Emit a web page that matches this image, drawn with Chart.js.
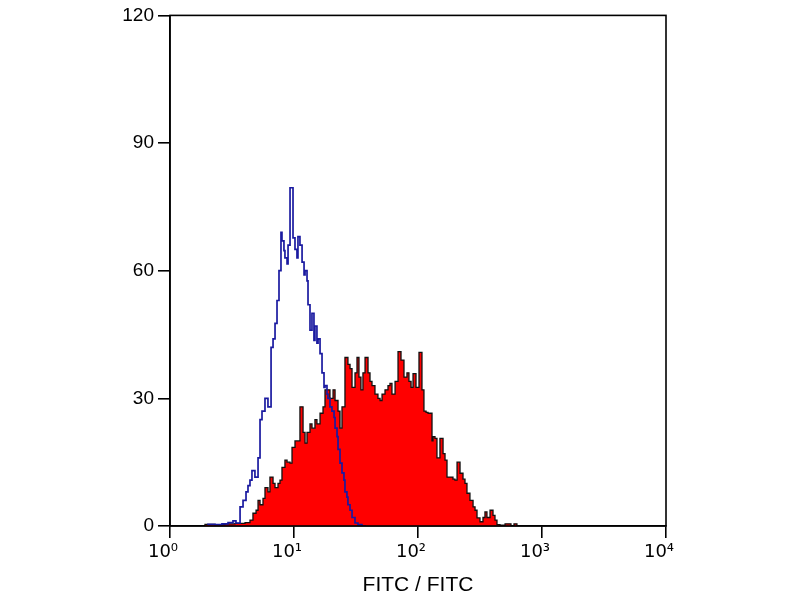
<!DOCTYPE html>
<html>
<head>
<meta charset="utf-8">
<title>FITC histogram</title>
<script src="https://cdn.jsdelivr.net/npm/chart.js@4"></script>
<style>
    html, body { margin: 0; padding: 0; background: #fff; }
    #wrap { width: 800px; height: 600px; position: relative; }
</style>
</head>
<body>
<div id="wrap"><canvas id="histo"></canvas></div>
<script>
// x values are fluorescence intensity in decades (log10), counts on y
const isotypeX = [0.306, 0.363, 0.419, 0.468, 0.508, 0.532, 0.565, 0.589, 0.613, 0.629,
    0.645, 0.661, 0.685, 0.710, 0.726, 0.742, 0.766, 0.790, 0.815, 0.831,
    0.847, 0.863, 0.879, 0.895, 0.903, 0.919, 0.927, 0.944, 0.952, 0.968,
    0.992, 1.008, 1.024, 1.032, 1.048, 1.065, 1.081, 1.089, 1.105, 1.113,
    1.129, 1.145, 1.161, 1.169, 1.185, 1.194, 1.210, 1.226, 1.242, 1.250,
    1.266, 1.274, 1.290, 1.306, 1.323, 1.331, 1.347, 1.355, 1.371, 1.387,
    1.403, 1.411, 1.427, 1.435, 1.452, 1.468, 1.492, 1.516, 1.548, 1.581];
const isotypeCounts = [0.3, 0.4, 0.3, 0.5, 0.8, 1.2, 0.7, 4.5, 6, 8,
    9.5, 10.8, 13, 11.5, 16, 25, 27, 30, 28, 42,
    44, 47.6, 53, 60, 69, 67, 64.7, 63, 61.6, 66,
    79.5, 67.7, 65, 63, 68, 66, 62, 59, 60, 57.6,
    52, 46, 50, 43.6, 47, 43, 44, 40.5, 36, 32.6,
    33, 31, 30, 28, 27, 25.5, 23, 21, 18, 14.8,
    12.5, 10.8, 8, 6.8, 5, 3.7, 2, 0.7, 0.3, 0];

const stainedX = [0.282, 0.363, 0.444, 0.524, 0.605, 0.645, 0.669, 0.694, 0.710, 0.726,
    0.750, 0.766, 0.790, 0.806, 0.831, 0.847, 0.871, 0.887, 0.903, 0.927,
    0.944, 0.968, 0.984, 1.008, 1.032, 1.048, 1.073, 1.089, 1.105, 1.129,
    1.145, 1.169, 1.185, 1.210, 1.234, 1.250, 1.266, 1.290, 1.315, 1.331,
    1.355, 1.371, 1.387, 1.411, 1.435, 1.452, 1.468, 1.492, 1.508, 1.524,
    1.540, 1.556, 1.573, 1.597, 1.613, 1.629, 1.653, 1.677, 1.694, 1.710,
    1.734, 1.758, 1.774, 1.790, 1.815, 1.839, 1.863, 1.887, 1.911, 1.927,
    1.944, 1.960, 1.984, 2.008, 2.032, 2.048, 2.065, 2.081, 2.097, 2.113,
    2.121, 2.137, 2.153, 2.177, 2.202, 2.218, 2.234, 2.258, 2.282, 2.298,
    2.315, 2.339, 2.363, 2.379, 2.395, 2.419, 2.444, 2.460, 2.476, 2.500,
    2.524, 2.540, 2.556, 2.581, 2.605, 2.621, 2.637, 2.661, 2.702, 2.750,
    2.774, 2.798, 2.823];
const stainedCounts = [0.2, 0.4, 0.3, 0.5, 0.6, 0.8, 1.4, 3, 3.7, 6,
    5, 6.5, 9, 8, 11.5, 10, 9, 10, 10.8, 13.8,
    15.5, 15, 14.8, 18.5, 20, 20, 28, 22, 19.5, 22,
    24, 23, 25, 24, 26.5, 28, 32, 32, 30, 32,
    29.5, 27, 23, 28, 39.6, 38, 37, 32.6, 36, 39.6,
    35, 32, 36, 39.6, 36, 34, 33, 31, 30, 29.5,
    31, 32, 33, 33.5, 31, 34, 41, 39, 35, 36,
    34, 32.6, 35.8, 32.6, 40.8, 32, 27, 26.7, 26.5, 26.5,
    20, 21, 20.6, 16, 20.6, 17, 15.5, 11.5, 11.5, 11,
    10.8, 15, 12.4, 11, 10, 7.7, 6, 4.5, 3.7, 1.9,
    1, 2, 3.3, 2, 3.7, 2.5, 1.4, 0.3, 0.2, 0.5,
    0, 0.5, 0];

const xTickLabels = ['10\u2070', '10\u00b9', '10\u00b2', '10\u00b3', '10\u2074'];
const yTickStep = 30;
const yMax = 120;

function toPoints(xs, ys) {
    return xs.map((x, i) => ({ x: x, y: ys[i] }));
}

// draws the top and right edges of the plot frame
const framePlugin = {
    id: 'frame',
    afterDraw(chart) {
        const a = chart.chartArea;
        const ctx = chart.ctx;
        ctx.save();
        ctx.strokeStyle = '#000';
        ctx.lineWidth = 1.6;
        ctx.strokeRect(a.left, a.top, a.right - a.left, a.bottom - a.top);
        ctx.restore();
    }
};

const tickFont = { family: '"Liberation Sans", Arial, sans-serif', size: 19 };

new Chart(document.getElementById('histo'), {
    type: 'line',
    data: {
        datasets: [{
            label: 'Isotype',
            data: toPoints(isotypeX, isotypeCounts),
            borderColor: '#1a1aa0',
            borderWidth: 1.7,
            stepped: 'after',
            fill: false,
            pointRadius: 0,
            order: 0
        }, {
            label: 'Stained',
            data: toPoints(stainedX, stainedCounts),
            borderColor: '#111',
            backgroundColor: '#ff0000',
            borderWidth: 1.3,
            stepped: 'after',
            fill: 'origin',
            pointRadius: 0,
            order: 1
        }]
    },
    options: {
        responsive: true,
        maintainAspectRatio: false,
        animation: false,
        layout: { padding: { left: 0, right: 134, top: 15, bottom: 2 } },
        plugins: {
            legend: { display: false },
            tooltip: { enabled: false }
        },
        scales: {
            x: {
                type: 'linear',
                min: 0,
                max: 4,
                border: { color: '#000', width: 1.6 },
                grid: { drawOnChartArea: false, color: '#000', lineWidth: 1.6, tickLength: 12 },
                ticks: {
                    stepSize: 1,
                    color: '#000',
                    font: { family: '"DejaVu Sans", sans-serif', size: 18 },
                    padding: 4,
                    labelOffset: -7,
                    maxRotation: 0,
                    callback: (value) => xTickLabels[value]
                },
                title: {
                    display: true,
                    text: 'FITC / FITC',
                    color: '#000',
                    font: { family: '"Liberation Sans", Arial, sans-serif', size: 21 },
                    padding: { top: 0, bottom: 0 }
                },
                afterFit: (scale) => { scale.height = 72; }
            },
            y: {
                min: 0,
                max: yMax,
                border: { color: '#000', width: 1.6 },
                grid: { drawOnChartArea: false, color: '#000', lineWidth: 1.6, tickLength: 12 },
                ticks: {
                    stepSize: yTickStep,
                    color: '#000',
                    font: tickFont,
                    padding: 4
                },
                afterFit: (scale) => { scale.width = 170; }
            }
        }
    },
    plugins: [framePlugin]
});
</script>
</body>
</html>
